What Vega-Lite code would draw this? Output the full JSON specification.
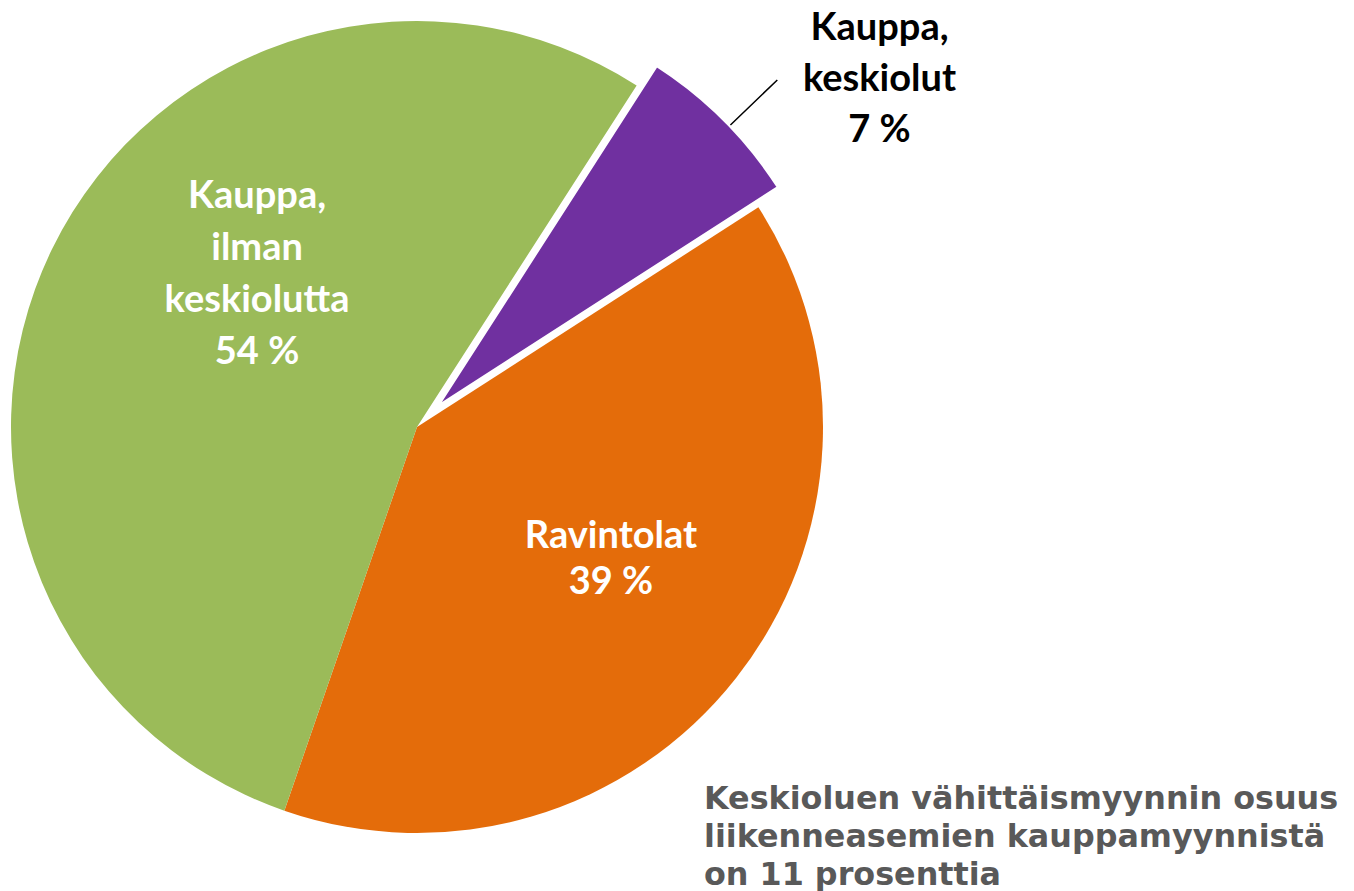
{
  "$schema": "https://vega.github.io/schema/vega-lite/v6.json",
  "width": 824,
  "height": 844,
  "autosize": {"type": "none"},
  "padding": {"left": 5, "top": 5, "right": 525, "bottom": 42},
  "background": "white",
  "config": {"view": {"stroke": null}},
  "title": {
    "text": ["Keskioluen vähittäismyynnin osuus", "liikenneasemien kauppamyynnistä", "on 11 prosenttia"],
    "orient": "bottom", "anchor": "start", "frame": "group", "align": "left", "baseline": "alphabetic",
    "dx": 699, "offset": -70,
    "font": "DejaVu Sans", "fontSize": 31.8, "fontWeight": "bold", "color": "#595959", "lineHeight": 38
  },
  "data": {"values": [
    {"cat": "Kauppa, keskiolut", "value": 6.8, "idx": 1, "label": "Kauppa,\nkeskiolut\n7 %"},
    {"cat": "Ravintolat", "value": 39.4, "idx": 2, "label": "Ravintolat\n39 %"},
    {"cat": "Kauppa, ilman keskiolutta", "value": 53.8, "idx": 3, "label": "Kauppa,\nilman\nkeskiolutta\n54 %"}
  ]},
  "encoding": {
    "theta": {"field": "value", "type": "quantitative", "stack": true, "scale": {"domain": [0, 100], "range": [0.5716, 6.8548]}},
    "order": {"field": "idx", "type": "quantitative"}
  },
  "layer": [
    {
      "mark": {"type": "arc", "radius": 406},
      "encoding": {
        "color": {"field": "cat", "type": "nominal", "legend": null,
          "scale": {"domain": ["Kauppa, keskiolut", "Ravintolat", "Kauppa, ilman keskiolutta"], "range": ["#7030A0", "#E46C0A", "#9BBB59"]}},
        "opacity": {"condition": {"test": "datum.idx === 1", "value": 0}, "value": 1}
      }
    },
    {
      "mark": {"type": "arc", "radius": 406, "xOffset": 20, "yOffset": -20, "stroke": "white", "strokeWidth": 3},
      "encoding": {
        "color": {"field": "cat", "type": "nominal", "legend": null,
          "scale": {"domain": ["Kauppa, keskiolut", "Ravintolat", "Kauppa, ilman keskiolutta"], "range": ["#7030A0", "#E46C0A", "#9BBB59"]}},
        "opacity": {"condition": {"test": "datum.idx === 1", "value": 1}, "value": 0}
      }
    },
    {
      "mark": {"type": "arc", "radius": 472, "radius2": 407, "padAngle": 0.5, "thetaOffset": 0.02, "xOffset": 20, "yOffset": -20, "filled": false, "strokeWidth": 1.5},
      "encoding": {
        "color": {"value": "black"},
        "opacity": {"condition": {"test": "datum.idx === 1", "value": 1}, "value": 0}
      }
    },
    {
      "mark": {"type": "text", "radius": 282.6, "thetaOffset": 0.517, "dy": 3, "font": "Lato", "fontSize": 38, "fontWeight": "bold", "lineBreak": "\n", "lineHeight": 52, "align": "center", "baseline": "middle"},
      "encoding": {
        "color": {"value": "white"},
        "text": {"condition": {"test": "datum.idx === 3", "field": "label", "type": "nominal"}, "value": ""}
      }
    },
    {
      "mark": {"type": "text", "radius": 221.6, "thetaOffset": -0.161, "dy": 3, "font": "Lato", "fontSize": 38, "fontWeight": "bold", "lineBreak": "\n", "lineHeight": 46, "align": "center", "baseline": "middle"},
      "encoding": {
        "color": {"value": "white"},
        "text": {"condition": {"test": "datum.idx === 2", "field": "label", "type": "nominal"}, "value": ""}
      }
    },
    {
      "mark": {"type": "text", "radius": 612, "thetaOffset": 0.0716, "dy": 3, "font": "Lato", "fontSize": 38, "fontWeight": "bold", "lineBreak": "\n", "lineHeight": 51, "align": "center", "baseline": "middle"},
      "encoding": {
        "color": {"value": "black"},
        "text": {"condition": {"test": "datum.idx === 1", "field": "label", "type": "nominal"}, "value": ""}
      }
    }
  ]
}
